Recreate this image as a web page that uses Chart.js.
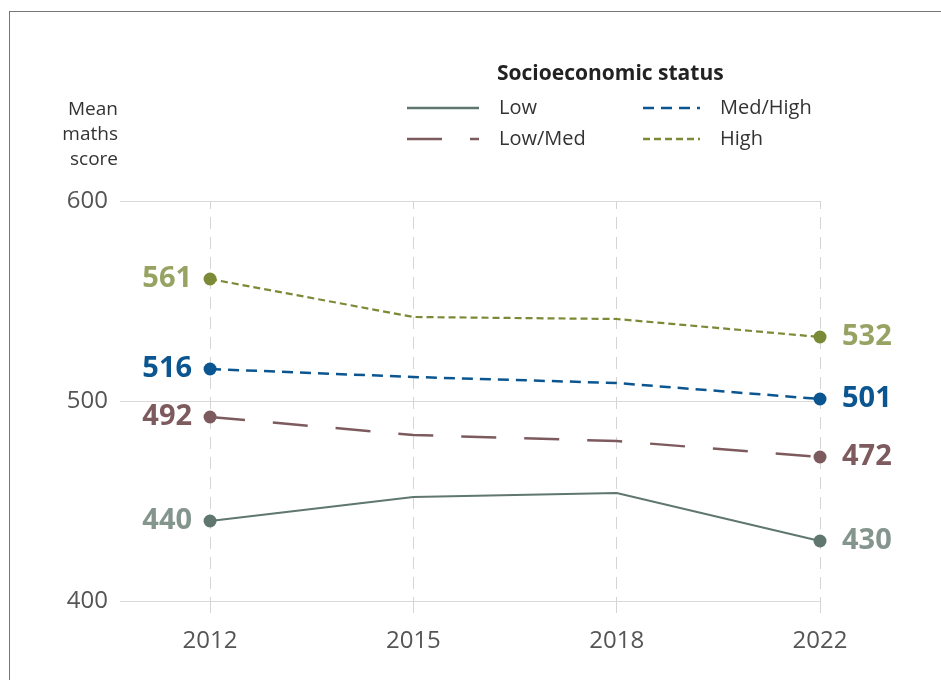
<!DOCTYPE html>
<html>
<head>
<meta charset="utf-8">
<script src="https://cdn.jsdelivr.net/npm/chart.js@4/dist/chart.umd.min.js"></script>
<style>
  html, body { margin: 0; padding: 0; background: #fff; }
  #wrap { position: relative; width: 941px; height: 680px; }
  #frame { position: absolute; left: 9px; top: 11px; right: 0; bottom: 0;
           border-left: 1px solid #777; border-top: 1px solid #777; }
  canvas { position: absolute; left: 0; top: 0; }
</style>
</head>
<body>
<div id="wrap">
  <div id="frame"></div>
  <canvas id="mathsChart" width="941" height="680"></canvas>
</div>
<script>
const years = ['2012', '2015', '2018', '2022'];
const lowScores = [440, 452, 454, 430];
const lowMedScores = [492, 483, 480, 472];
const medHighScores = [516, 512, 509, 501];
const highScores = [561, 542, 541, 532];
const yTicks = [400, 500, 600];
const legendTitle = 'Socioeconomic status';
const yTitle = ['Mean', 'maths', 'score'];

const FONT = '"Open Sans", "Noto Sans", sans-serif';

// legend order: column-major, two columns
const series = [
    { label: 'Low', data: lowScores, color: '#5f776f', labelColor: '#84958e', dash: [], width: 2.2 },
    { label: 'Low/Med', data: lowMedScores, color: '#7d5a5e', labelColor: '#7d5a5e', dash: [35, 28], width: 2.5 },
    { label: 'Med/High', data: medHighScores, color: '#0b5690', labelColor: '#0b5690', dash: [11, 7], width: 2.5 },
    { label: 'High', data: highScores, color: '#7b8a36', labelColor: '#97a363', dash: [7, 4], width: 2.2 }
];

const endPoint = ctx => (ctx.dataIndex === 0 || ctx.dataIndex === years.length - 1) ? 6.5 : 0;

const datasets = series.map(s => ({
    label: s.label,
    data: s.data.map((v, i) => ({ x: i, y: v })),
    borderColor: s.color,
    backgroundColor: s.color,
    borderWidth: s.width,
    borderDash: s.dash,
    pointRadius: endPoint,
    pointHoverRadius: endPoint,
    pointBorderWidth: 0,
    labelColor: s.labelColor,
    clip: false,
    tension: 0
}));

// value labels at first and last year
const valueLabels = {
    id: 'valueLabels',
    afterDatasetsDraw(chart) {
        const c = chart.ctx;
        c.save();
        c.font = 'bold 29px ' + FONT;
        c.textBaseline = 'middle';
        chart.data.datasets.forEach((ds, di) => {
            const meta = chart.getDatasetMeta(di);
            const first = meta.data[0];
            const last = meta.data[meta.data.length - 1];
            c.fillStyle = ds.labelColor;
            c.textAlign = 'right';
            c.fillText(String(ds.data[0].y), first.x - 18, first.y);
            c.textAlign = 'left';
            c.fillText(String(ds.data[ds.data.length - 1].y), last.x + 22, last.y);
        });
        c.restore();
    }
};

// legend block and y-axis title
const legendBlock = {
    id: 'legendBlock',
    afterDraw(chart) {
        const c = chart.ctx;
        c.save();
        c.fillStyle = '#222';
        c.font = 'bold 21px ' + FONT;
        c.textAlign = 'left';
        c.textBaseline = 'middle';
        c.fillText(legendTitle, 497, 74);

        const cols = [{ x: 407, w: 72 }, { x: 643, w: 57 }];
        const rows = [108, 139];
        c.font = '20px ' + FONT;
        chart.data.datasets.forEach((ds, i) => {
            const col = cols[Math.floor(i / 2)];
            const y = rows[i % 2];
            c.strokeStyle = ds.borderColor;
            c.lineWidth = 2.5;
            c.setLineDash(ds.borderDash);
            c.beginPath();
            c.moveTo(col.x, y);
            c.lineTo(col.x + col.w, y);
            c.stroke();
            c.setLineDash([]);
            c.fillStyle = '#333';
            c.fillText(ds.label, col.x + col.w + 20, y);
        });

        const yScale = chart.scales.y;
        c.textAlign = 'right';
        c.fillStyle = '#333';
        c.font = '19px ' + FONT;
        yTitle.forEach((t, i) => c.fillText(t, yScale.right - 2, 110 + i * 25));
        c.restore();
    }
};

new Chart(document.getElementById('mathsChart'), {
    type: 'line',
    data: { datasets },
    options: {
        responsive: false,
        animation: false,
        events: [],
        layout: { padding: { top: 201, right: 121, left: 0, bottom: 0 } },
        plugins: { legend: { display: false }, tooltip: { enabled: false } },
        scales: {
            x: {
                type: 'linear',
                min: -0.443,
                max: years.length - 1,
                afterBuildTicks: s => { s.ticks = years.map((y, i) => ({ value: i })); },
                afterFit: s => { s.height = 79; },
                border: { display: false, dash: [12, 8], dashOffset: 4 },
                grid: {
                    color: '#d4d4d4',
                    lineWidth: 1,
                    tickLength: 18,
                    tickColor: '#d4d4d4',
                    tickBorderDash: [12, 8]
                },
                ticks: {
                    callback: v => years[v],
                    color: '#555',
                    font: { family: FONT, size: 24 },
                    padding: 8,
                    maxRotation: 0
                }
            },
            y: {
                min: 400,
                max: 600,
                afterBuildTicks: s => { s.ticks = yTicks.map(v => ({ value: v })); },
                afterFit: s => { s.width = 120; },
                border: { display: false },
                grid: { color: '#d9d9d9', lineWidth: 1, drawTicks: false },
                ticks: {
                    color: '#555',
                    font: { family: FONT, size: 24 },
                    padding: 12
                }
            }
        }
    },
    plugins: [valueLabels, legendBlock]
});
</script>
</body>
</html>
